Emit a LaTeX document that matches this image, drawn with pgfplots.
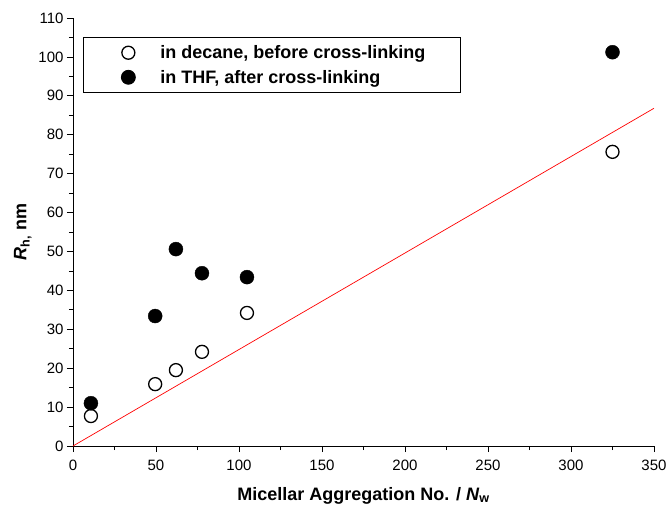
\documentclass[border=0pt]{standalone}
\usepackage{fontspec}
\setmainfont{Liberation Sans}
\usepackage{pgfplots}
\pgfplotsset{compat=1.18}
\begin{document}
\begin{tikzpicture}
\begin{axis}[
  at={(0,0)}, anchor=south west,
  scale only axis, width=581pt, height=428pt,
  xmin=0, xmax=350, ymin=0, ymax=110,
  axis lines=left, axis line style={-, line width=0.8pt},
  xtick={0,50,...,350}, ytick={0,10,...,110},
  minor xtick={25,75,...,325}, minor ytick={5,15,...,105},
  tick align=outside, major tick length=6pt, minor tick length=4pt,
  tick style={line width=0.8pt, black},
  /pgf/number format/assume math mode=true,
  ticklabel style={font=\fontsize{15}{17}\selectfont},
  xticklabel style={yshift=-4pt},
  xlabel={\textbf{Micellar Aggregation No. / \textit{N}\textsubscript{w}}},
  ylabel={\textbf{\textit{R}\textsubscript{h,} nm}},
  label style={font=\fontsize{18}{20}\selectfont},
  xlabel style={yshift=-10pt},
  ylabel style={yshift=0pt},
  legend style={at={(axis cs:6,105.1)}, anchor=north west, draw=black, line width=0.8pt,
     font=\fontsize{18}{20}\selectfont\bfseries, inner xsep=0pt, inner ysep=7pt,
     nodes={inner sep=1pt}, row sep=8pt},
  legend cell align=left,
  legend image code/.code={\path[draw=none,fill=none] (0pt,0pt) -- (76pt,0pt); \draw[#1] plot coordinates {(45pt,0pt)};},
]
\addplot[only marks, mark=*, mark size=6.5pt, mark options={fill=white, draw=black, line width=1.3pt}]
  coordinates {(10.8,7.7) (49.5,15.9) (62,19.5) (77.7,24.2) (104.8,34.2) (325,75.6)};
\addlegendentry{in decane, before cross-linking\kern34pt}
\addplot[only marks, mark=*, mark size=7pt, mark options={fill=black, draw=black}]
  coordinates {(10.8,11) (49.5,33.4) (62,50.6) (77.7,44.4) (104.8,43.4) (325,101.2)};
\addlegendentry{in THF, after cross-linking}
\addplot[red, line width=0.7pt, forget plot] coordinates {(0,0) (350,86.8)};
\end{axis}
\pgfresetboundingbox
\path (-73pt,-59pt) rectangle (595pt,446pt);
\end{tikzpicture}
\end{document}
